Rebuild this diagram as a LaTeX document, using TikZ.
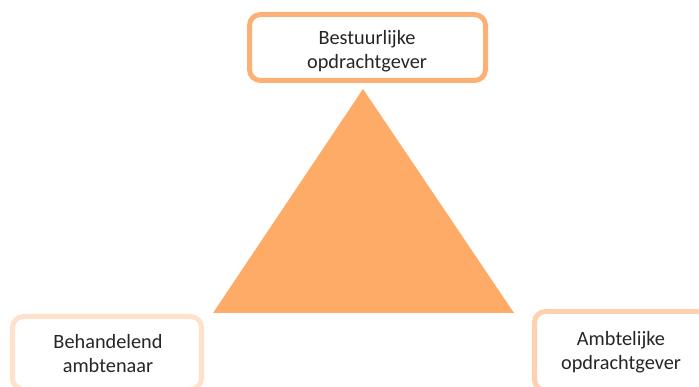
\documentclass[tikz,border=0pt]{standalone}
\usepackage{fontspec}
\setmainfont{Carlito}
\definecolor{tri}{RGB}{254,171,103}
\definecolor{topb}{RGB}{253,176,118}
\definecolor{leftb}{RGB}{255,225,203}
\definecolor{rightb}{RGB}{255,208,175}
\definecolor{txt}{RGB}{38,38,38}
\begin{document}
\begin{tikzpicture}[x=1pt,y=-1pt,
  rolebox/.style={draw, line width=5pt, rounded corners=11pt, fill=white, inner sep=0pt},
  roletext/.style={align=center, text=txt, font=\fontsize{20.3}{24}\selectfont, inner sep=0pt}]
\useasboundingbox (0,0) rectangle (699,387);
\clip (0,0) rectangle (699,387);
\fill[tri] (363,89) coordinate (apex) -- (213,313) coordinate (bl) -- (514,313) coordinate (br) -- cycle;
\node[rolebox, draw=topb, minimum width=236pt, minimum height=66pt] (top) at (367.5,47.5) {};
\node[roletext] (toptext) at (367,51) {Bestuurlijke\\opdrachtgever};
\node[rolebox, draw=leftb, minimum width=189pt, minimum height=73pt] (left) at (107,353) {};
\node[roletext] (lefttext) at (108,354) {Behandelend\\ambtenaar};
\node[rolebox, draw=rightb, minimum width=173pt, minimum height=79pt] (right) at (621,351) {};
\node[roletext] (righttext) at (621,352) {Ambtelijke\\opdrachtgever};
\end{tikzpicture}
\end{document}
